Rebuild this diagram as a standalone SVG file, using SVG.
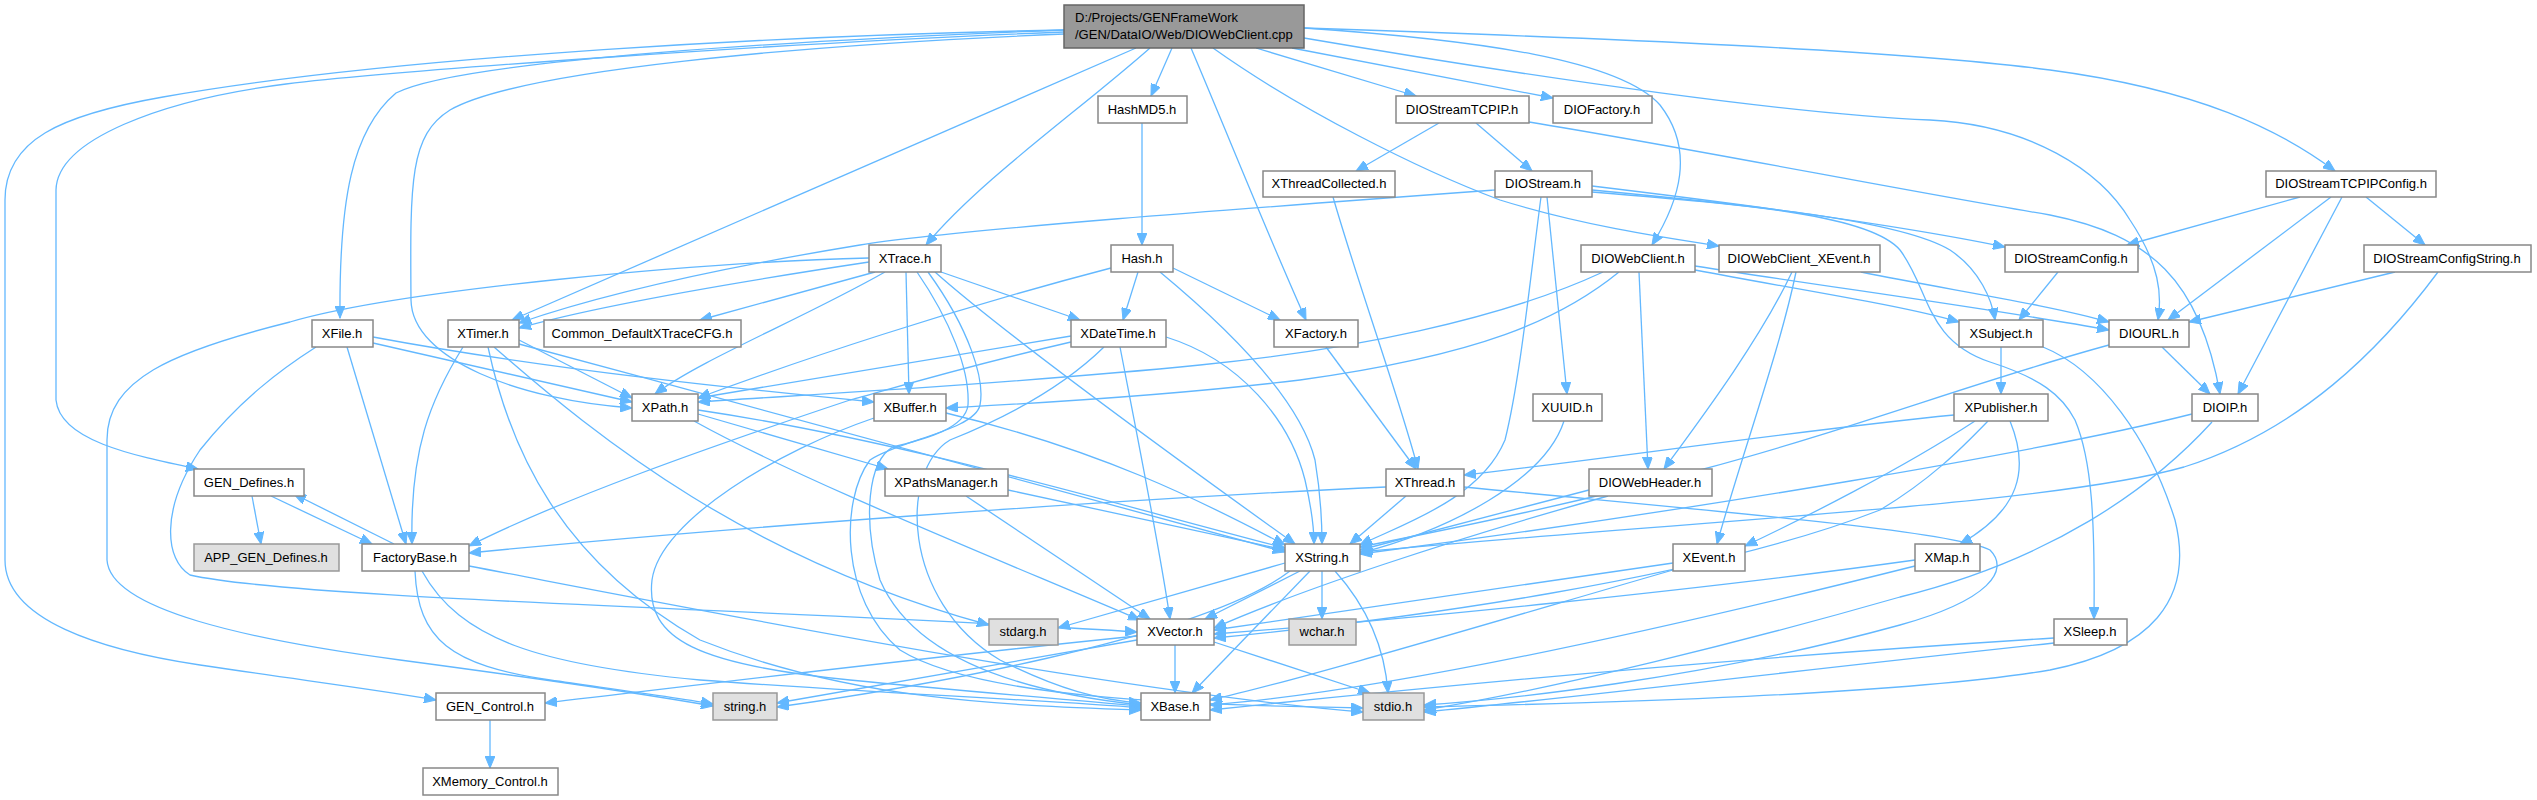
<svg xmlns="http://www.w3.org/2000/svg" width="2537" height="800" viewBox="0 0 2537 800">
<style>
.n rect{fill:#fff;stroke:#888;stroke-width:1.5}
.g rect{fill:#e0e0e0;stroke:#999;stroke-width:1.5}
.m rect{fill:#999;stroke:#666;stroke-width:1.5}
text{font-family:"Liberation Sans",Arial,sans-serif;font-size:13px;fill:#000;text-anchor:middle}
.e path{fill:none;stroke:#63b8ff;stroke-width:1.3;marker-end:url(#a)}
</style>
<defs>
<marker id="a" markerUnits="userSpaceOnUse" markerWidth="13" markerHeight="10" refX="12" refY="5" orient="auto"><path d="M0,0 L12,5 L0,10 z" fill="#63b8ff" stroke="#63b8ff"/></marker>
</defs>
<rect width="2537" height="800" fill="#fff"/>
<g class="e" id="edges">
<path d="M1064,30 C800,40 460,60 396,93 C352,130 339,200 340,318"/>
<path d="M1136,48 L512,320"/>
<path d="M1064,34 C800,45 520,70 450,110 C410,135 410,180 411,300 C412,360 520,400 632,408"/>
<path d="M1064,32 C800,42 400,70 286,84 C160,100 57,140 56,190 L56,400 C60,440 130,455 198,469"/>
<path d="M1064,30 C800,35 400,55 163,97 C60,115 5,140 5,200 L5,560 C5,620 100,650 200,665 C300,680 380,690 436,700"/>
<path d="M1150,48 C1080,110 980,180 926,245"/>
<path d="M1172,48 L1151,96"/>
<path d="M1191,48 C1230,140 1270,240 1306,320"/>
<path d="M1213,48 C1300,110 1420,170 1500,200 C1580,225 1660,237 1719,246"/>
<path d="M1256,48 L1416,96"/>
<path d="M1292,48 L1553,98"/>
<path d="M1304,28 C1480,40 1620,60 1660,105 C1695,150 1680,200 1652,245"/>
<path d="M1304,38 C1550,80 1800,115 1930,120 C2030,125 2100,170 2130,220 C2160,265 2162,295 2158,320"/>
<path d="M1304,28 C1600,38 1900,50 2050,70 C2200,90 2280,130 2335,171"/>
<path d="M1439,123 L1356,171"/>
<path d="M1476,123 L1532,171"/>
<path d="M1529,122 C1700,150 1900,190 2050,215 C2150,235 2200,280 2220,394"/>
<path d="M1333,197 C1360,290 1400,400 1418,469"/>
<path d="M1326,347 L1416,469"/>
<path d="M1495,190 C1250,208 950,230 860,245 C720,268 600,295 519,323"/>
<path d="M1547,197 L1567,394"/>
<path d="M1541,197 C1530,280 1520,380 1505,440 C1480,500 1400,525 1360,545"/>
<path d="M1592,186 C1750,205 1900,225 2005,247"/>
<path d="M1592,190 C1750,205 1900,220 1950,250 C1980,270 1992,300 1995,320"/>
<path d="M1592,192 C1750,205 1870,215 1900,250 C1930,290 1925,340 1990,362 C2040,378 2062,395 2075,420 C2092,460 2095,520 2094,619"/>
<path d="M2300,197 L2127,245"/>
<path d="M2331,197 L2168,320"/>
<path d="M2342,197 L2238,394"/>
<path d="M2366,197 L2425,245"/>
<path d="M2395,272 L2189,322"/>
<path d="M2438,272 C2380,350 2300,430 2184,467 C2050,505 1700,520 1360,552"/>
<path d="M2058,272 L2019,320"/>
<path d="M2001,347 L2001,394"/>
<path d="M2043,347 C2100,370 2150,440 2175,520 C2195,600 2150,650 2050,670 C1900,695 1600,703 1424,707"/>
<path d="M2162,347 L2210,394"/>
<path d="M2109,345 C1980,380 1850,430 1700,470 C1550,510 1420,535 1360,547"/>
<path d="M2192,414 C2050,450 1700,510 1360,554"/>
<path d="M2212,422 C2150,490 2050,560 1900,597 C1750,640 1550,690 1424,710"/>
<path d="M1603,272 C1500,320 1350,350 1200,365 C1000,385 800,395 698,402"/>
<path d="M1619,272 C1560,320 1480,355 1300,380 C1150,398 1000,405 946,408"/>
<path d="M1639,272 L1648,469"/>
<path d="M1695,266 C1850,290 2000,310 2109,330"/>
<path d="M1695,270 C1800,290 1900,305 1959,322"/>
<path d="M1792,272 C1760,340 1700,420 1664,469"/>
<path d="M1796,272 C1780,350 1740,460 1717,544"/>
<path d="M1861,272 C1950,290 2050,305 2109,322"/>
<path d="M1138,272 L1123,320"/>
<path d="M1173,268 L1280,320"/>
<path d="M1111,268 C950,310 800,360 698,398"/>
<path d="M1160,272 C1230,330 1300,400 1315,460 C1320,490 1322,515 1322,544"/>
<path d="M869,262 C750,280 600,305 519,328"/>
<path d="M875,272 L700,320"/>
<path d="M941,272 L1080,320"/>
<path d="M906,272 L909,394"/>
<path d="M885,272 C800,320 700,360 655,394"/>
<path d="M869,258 C700,262 400,290 290,322 C170,352 107,380 107,440 L107,560 C110,610 250,640 400,660 C550,680 650,695 713,706"/>
<path d="M935,272 C1000,330 1150,440 1295,544"/>
<path d="M917,272 C950,320 970,370 968,405 C965,430 920,440 893,447 C868,460 862,520 880,580 C910,650 1000,690 1141,705"/>
<path d="M928,272 C970,330 985,380 980,405 C975,430 900,440 870,460 C840,500 840,600 900,650 C980,700 1200,705 1363,708"/>
<path d="M698,410 C900,440 1100,500 1285,548"/>
<path d="M698,414 L888,469"/>
<path d="M694,421 C800,480 1000,560 1140,620"/>
<path d="M946,413 C1100,450 1200,500 1285,545"/>
<path d="M874,418 C780,450 660,520 652,580 C645,640 700,665 850,680 C950,690 1050,698 1141,706"/>
<path d="M1008,490 L1285,550"/>
<path d="M966,496 L1150,619"/>
<path d="M1071,336 L698,398"/>
<path d="M1071,342 C950,370 870,395 850,400 C700,450 560,500 469,546"/>
<path d="M1166,337 C1240,360 1290,420 1305,480 C1312,510 1314,530 1314,544"/>
<path d="M1120,347 C1140,450 1160,550 1170,619"/>
<path d="M1104,347 C1060,390 1000,420 950,440 C900,470 900,600 1000,660 C1060,690 1100,700 1141,703"/>
<path d="M1285,563 L1058,628"/>
<path d="M1300,571 L1205,619"/>
<path d="M1322,571 L1322,619"/>
<path d="M1335,571 C1370,610 1385,650 1388,693"/>
<path d="M1310,571 L1192,693"/>
<path d="M1290,571 C1200,640 900,690 777,707"/>
<path d="M1175,645 L1175,693"/>
<path d="M1214,642 L1370,693"/>
<path d="M1137,640 L777,703"/>
<path d="M1137,636 C900,660 700,685 545,703"/>
<path d="M394,544 L294,494"/>
<path d="M422,571 C460,640 540,665 700,680 C900,695 1050,700 1141,708"/>
<path d="M415,571 C418,640 450,665 550,680 C620,690 680,698 713,704"/>
<path d="M469,566 C700,610 1100,690 1363,712"/>
<path d="M252,496 L261,544"/>
<path d="M271,496 L372,544"/>
<path d="M490,720 L490,768"/>
<path d="M373,343 L632,402"/>
<path d="M373,337 C550,370 750,390 874,402"/>
<path d="M347,347 L406,544"/>
<path d="M316,347 C280,370 240,400 200,450 C160,510 165,560 190,575 C300,600 800,610 1137,632"/>
<path d="M519,340 L632,398"/>
<path d="M463,347 C430,400 410,450 412,544"/>
<path d="M488,347 C510,450 560,560 700,640 C850,700 1000,705 1141,710"/>
<path d="M494,347 C600,440 750,560 989,625"/>
<path d="M519,344 C800,420 1100,500 1285,552"/>
<path d="M1406,496 L1350,544"/>
<path d="M1386,487 C1100,500 700,530 469,553"/>
<path d="M1464,487 C1700,510 1950,530 1990,550 C2010,570 1990,600 1900,625 C1700,680 1500,700 1424,705"/>
<path d="M1564,421 C1545,480 1450,530 1360,553"/>
<path d="M1589,490 L1360,550"/>
<path d="M1608,496 C1450,540 1300,590 1214,628"/>
<path d="M1673,563 L1214,630"/>
<path d="M1673,570 C1500,620 1300,680 1210,700"/>
<path d="M1915,560 C1700,590 1400,620 1214,634"/>
<path d="M1915,566 C1700,620 1400,690 1210,705"/>
<path d="M1954,415 C1800,430 1600,460 1464,475"/>
<path d="M1975,421 C1900,470 1800,520 1745,546"/>
<path d="M1988,421 C1960,450 1930,480 1880,510 C1700,580 1400,620 1214,638"/>
<path d="M2010,421 C2030,470 2020,510 1960,544"/>
<path d="M2054,638 C1700,660 1400,690 1210,710"/>
<path d="M2054,643 C1800,670 1600,695 1424,712"/>
<path d="M1142,123 L1142,245"/>
</g>
<g id="main" class="m"><rect x="1064" y="5" width="240" height="43"/><text x="1075" y="22" style="text-anchor:start">D:/Projects/GENFrameWork</text><text x="1075" y="39" style="text-anchor:start">/GEN/DataIO/Web/DIOWebClient.cpp</text></g>
<g id="HashMD5" class="n"><rect x="1098" y="96" width="89" height="27"/><text x="1142" y="114">HashMD5.h</text></g>
<g id="DIOStreamTCPIP" class="n"><rect x="1396" y="96" width="133" height="27"/><text x="1462" y="114">DIOStreamTCPIP.h</text></g>
<g id="DIOFactory" class="n"><rect x="1553" y="96" width="99" height="27"/><text x="1602" y="114">DIOFactory.h</text></g>
<g id="XThreadCollected" class="n"><rect x="1263" y="171" width="132" height="26"/><text x="1329" y="188">XThreadCollected.h</text></g>
<g id="DIOStream" class="n"><rect x="1495" y="171" width="97" height="26"/><text x="1543" y="188">DIOStream.h</text></g>
<g id="DIOStreamTCPIPConfig" class="n"><rect x="2266" y="171" width="170" height="26"/><text x="2351" y="188">DIOStreamTCPIPConfig.h</text></g>
<g id="XTrace" class="n"><rect x="869" y="245" width="72" height="27"/><text x="905" y="263">XTrace.h</text></g>
<g id="Hash" class="n"><rect x="1111" y="245" width="62" height="27"/><text x="1142" y="263">Hash.h</text></g>
<g id="DIOWebClient" class="n"><rect x="1581" y="245" width="114" height="27"/><text x="1638" y="263">DIOWebClient.h</text></g>
<g id="DIOWebClient_XEvent" class="n"><rect x="1719" y="245" width="161" height="27"/><text x="1799" y="263">DIOWebClient_XEvent.h</text></g>
<g id="DIOStreamConfig" class="n"><rect x="2005" y="245" width="133" height="27"/><text x="2071" y="263">DIOStreamConfig.h</text></g>
<g id="DIOStreamConfigString" class="n"><rect x="2364" y="245" width="167" height="27"/><text x="2447" y="263">DIOStreamConfigString.h</text></g>
<g id="XFile" class="n"><rect x="312" y="320" width="61" height="27"/><text x="342" y="338">XFile.h</text></g>
<g id="XTimer" class="n"><rect x="448" y="320" width="71" height="27"/><text x="483" y="338">XTimer.h</text></g>
<g id="Common_DefaultXTraceCFG" class="n"><rect x="544" y="320" width="197" height="27"/><text x="642" y="338">Common_DefaultXTraceCFG.h</text></g>
<g id="XDateTime" class="n"><rect x="1071" y="320" width="95" height="27"/><text x="1118" y="338">XDateTime.h</text></g>
<g id="XFactory" class="n"><rect x="1274" y="320" width="84" height="27"/><text x="1316" y="338">XFactory.h</text></g>
<g id="XSubject" class="n"><rect x="1959" y="320" width="84" height="27"/><text x="2001" y="338">XSubject.h</text></g>
<g id="DIOURL" class="n"><rect x="2109" y="320" width="80" height="27"/><text x="2149" y="338">DIOURL.h</text></g>
<g id="XPath" class="n"><rect x="632" y="394" width="66" height="27"/><text x="665" y="412">XPath.h</text></g>
<g id="XBuffer" class="n"><rect x="874" y="394" width="72" height="27"/><text x="910" y="412">XBuffer.h</text></g>
<g id="XUUID" class="n"><rect x="1533" y="394" width="69" height="27"/><text x="1567" y="412">XUUID.h</text></g>
<g id="XPublisher" class="n"><rect x="1954" y="394" width="94" height="27"/><text x="2001" y="412">XPublisher.h</text></g>
<g id="DIOIP" class="n"><rect x="2192" y="394" width="66" height="27"/><text x="2225" y="412">DIOIP.h</text></g>
<g id="GEN_Defines" class="n"><rect x="194" y="469" width="110" height="27"/><text x="249" y="487">GEN_Defines.h</text></g>
<g id="XPathsManager" class="n"><rect x="885" y="469" width="123" height="27"/><text x="946" y="487">XPathsManager.h</text></g>
<g id="XThread" class="n"><rect x="1386" y="469" width="78" height="27"/><text x="1425" y="487">XThread.h</text></g>
<g id="DIOWebHeader" class="n"><rect x="1589" y="469" width="123" height="27"/><text x="1650" y="487">DIOWebHeader.h</text></g>
<g id="APP_GEN_Defines" class="g"><rect x="194" y="544" width="145" height="27"/><text x="266" y="562">APP_GEN_Defines.h</text></g>
<g id="FactoryBase" class="n"><rect x="362" y="544" width="107" height="27"/><text x="415" y="562">FactoryBase.h</text></g>
<g id="XString" class="n"><rect x="1285" y="544" width="75" height="27"/><text x="1322" y="562">XString.h</text></g>
<g id="XEvent" class="n"><rect x="1673" y="544" width="72" height="27"/><text x="1709" y="562">XEvent.h</text></g>
<g id="XMap" class="n"><rect x="1915" y="544" width="65" height="27"/><text x="1947" y="562">XMap.h</text></g>
<g id="stdarg" class="g"><rect x="989" y="619" width="69" height="26"/><text x="1023" y="636">stdarg.h</text></g>
<g id="XVector" class="n"><rect x="1137" y="619" width="77" height="26"/><text x="1175" y="636">XVector.h</text></g>
<g id="wchar" class="g"><rect x="1289" y="619" width="67" height="26"/><text x="1322" y="636">wchar.h</text></g>
<g id="XSleep" class="n"><rect x="2054" y="619" width="73" height="26"/><text x="2090" y="636">XSleep.h</text></g>
<g id="GEN_Control" class="n"><rect x="436" y="693" width="109" height="27"/><text x="490" y="711">GEN_Control.h</text></g>
<g id="string" class="g"><rect x="713" y="693" width="64" height="27"/><text x="745" y="711">string.h</text></g>
<g id="XBase" class="n"><rect x="1141" y="693" width="69" height="27"/><text x="1175" y="711">XBase.h</text></g>
<g id="stdio" class="g"><rect x="1363" y="693" width="61" height="27"/><text x="1393" y="711">stdio.h</text></g>
<g id="XMemory_Control" class="n"><rect x="423" y="768" width="135" height="27"/><text x="490" y="786">XMemory_Control.h</text></g>
</svg>
